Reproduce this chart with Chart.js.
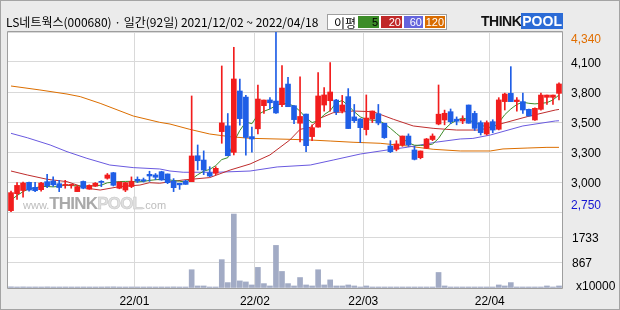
<!DOCTYPE html>
<html><head><meta charset="utf-8">
<script src="https://cdn.jsdelivr.net/npm/chart.js@4/dist/chart.umd.min.js"></script>
<style>
html,body{margin:0;padding:0;}
body{width:620px;height:310px;overflow:hidden;background:#ebebeb;position:relative;font-family:"Liberation Sans",Arial,sans-serif;}
#border{position:absolute;left:0;top:0;width:618px;height:308px;border:1px solid #a4a4a4;pointer-events:none;z-index:5;}
canvas{position:absolute;left:0;}
#cp{top:0;}
#cv{top:212px;}
#title{position:absolute;left:6px;top:13px;font:12px "Noto Sans CJK KR";color:#000;white-space:nowrap;z-index:3;}
#legend{position:absolute;left:327px;top:14px;width:118px;height:14px;border:1px solid #a0a0a0;background:#fff;z-index:3;font:12px "Noto Sans CJK KR";}
#legend span{position:absolute;top:1px;height:12px;line-height:12px;font:11px "Liberation Sans";color:#fff;text-align:right;padding-right:1px;box-sizing:border-box;}
#logo{position:absolute;left:481px;top:14px;height:15px;z-index:3;font:bold 14px "Liberation Sans";line-height:15px;white-space:nowrap;}
#wm{position:absolute;left:23px;top:194px;z-index:3;white-space:nowrap;pointer-events:none;color:#bdbdbd;}
</style></head>
<body>
<canvas id="cp" width="620" height="212"></canvas>
<canvas id="cv" width="620" height="98"></canvas>
<div id="title">LS네트웍스(000680) · 일간(92일) 2021/12/02 ~ 2022/04/18</div>
<div id="legend"><span style="left:6px;top:-1px;color:#000;font:12px 'Noto Sans CJK KR';">이평</span>
<span style="left:30px;width:21px;background:#3c8c28;color:#000;">5</span>
<span style="left:53px;width:21px;background:#c02828;">20</span>
<span style="left:76px;width:19px;background:#6464dc;">60</span>
<span style="left:97px;width:20px;background:#d96c00;">120</span></div>
<div id="logo"><span style="color:#111;letter-spacing:-0.5px;">THINK</span><span style="color:#fff;background:#2b6bd6;padding:0 1px;">POOL</span></div>
<div id="wm"><span style="font:11px 'Liberation Sans';">www.</span><span style="font:bold 17px 'Liberation Sans';color:#a9a9a9;letter-spacing:-0.8px;">THINK</span><span style="font:bold 17px 'Liberation Sans';color:#e0e0e0;letter-spacing:-0.8px;-webkit-text-stroke:0.5px #c4c4c4;">POOL</span><span style="font:11px 'Liberation Sans';">.com</span></div>
<div id="border"></div>
<script>
// ---- data ----
const opens  = [2762,2912,2940,3012,2968,2947,3018,3024,3000,2985,2985,2930,3020,2952,2978,3020,3048,3097,2960,2944,
                2975,3039,3035,3083,3077,3106,3086,3024,3004,3024,3018,3247,3209,3097,3092,3460,3511,3277,3819,3765,
                3416,3485,3689,3740,3730,3698,3880,3689,3534,3615,3416,3500,3695,3733,3739,3642,3769,3590,3572,3478,
                3572,3618,3534,3333,3304,3342,3421,3298,3230,3313,3390,3527,3563,3636,3570,3554,3695,3621,3539,3439,
                3548,3481,3725,3798,3725,3725,3657,3563,3657,3763,3763,3798];
const highs  = [2935,3009,3015,3015,3012,3012,3083,3060,3030,3030,2995,2985,3024,2990,3010,3027,3090,3100,3015,3012,
                3060,3060,3050,3110,3090,3110,3086,3045,3004,3030,3775,3342,3290,3150,3150,4040,3620,4205,3925,3780,
                3500,3872,3739,3760,4340,4043,3940,3689,3945,3615,3520,3981,3850,4070,3745,3780,3840,3700,3575,3784,
                3642,3700,3534,3380,3380,3421,3440,3330,3289,3400,3440,3872,3650,3660,3590,3600,3695,3640,3555,3555,
                3565,3760,3800,4034,3760,3800,3660,3670,3800,3783,3783,3890];
const lows   = [2750,2862,2880,2935,2930,2935,2965,2975,2930,2960,2960,2930,2955,2950,2975,2974,3040,2980,2955,2930,
                2965,3010,3015,3020,3035,3030,3000,2930,2950,2994,3018,3121,3080,3062,3080,3357,3247,3254,3518,3252,
                3279,3440,3620,3660,3620,3680,3680,3530,3368,3283,3380,3500,3640,3640,3610,3625,3487,3540,3363,3430,
                3540,3520,3400,3275,3290,3330,3330,3210,3220,3310,3380,3520,3520,3530,3520,3530,3534,3470,3430,3430,
                3450,3475,3651,3725,3640,3620,3598,3560,3650,3700,3700,3740];
const closes = [2921,2985,3006,2944,2938,3006,2980,2990,2966,2992,2988,2974,2960,2985,3004,3012,3077,2986,3015,3009,
                3020,3024,3024,3068,3057,3033,3009,2965,2990,2994,3245,3203,3121,3068,3136,3537,3247,3925,3575,3408,
                3395,3748,3739,3715,3625,3845,3680,3566,3594,3336,3495,3775,3784,3810,3634,3695,3487,3556,3495,3580,
                3642,3536,3407,3283,3351,3421,3342,3215,3289,3395,3421,3614,3622,3548,3552,3569,3534,3489,3451,3539,
                3474,3740,3792,3725,3739,3651,3598,3666,3783,3783,3783,3881];
const volumes = [40,35,38,35,36,35,38,35,35,36,35,35,36,35,35,36,38,40,35,35,
                 36,35,35,36,35,36,35,38,35,35,625,70,70,35,35,970,185,2530,243,208,
                 104,705,150,70,1457,566,150,70,358,104,70,625,104,278,70,70,104,70,35,70,
                 35,35,35,35,35,35,35,35,35,35,35,531,70,35,35,35,35,35,35,35,
                 35,104,70,185,35,35,35,35,35,70,35,70];
const ma5 = [2856,2895,2930,2955,2962,2976,2975,2972,2976,2987,2983,2982,2976,2980,2982,2987,3008,3013,3019,3020,
             3021,3015,3020,3029,3035,3038,3036,3028,3022,3015,3041,3079,3111,3126,3160,3213,3230,3370,3470,3545,
             3530,3610,3640,3660,3690,3710,3705,3686,3640,3580,3540,3555,3610,3645,3715,3735,3690,3636,3590,3568,
             3560,3560,3530,3490,3444,3400,3361,3340,3338,3340,3350,3400,3480,3530,3560,3581,3565,3538,3519,3500,
             3490,3540,3610,3660,3700,3720,3710,3705,3710,3716,3740,3783];
const ma20X = [0,2.7,6,9.3,12.6,14.8,18,21.4,23,24.7,28.6,33,36.4,39.7,43,46.3,48,49.7,51.3,53.5,56.8,60.1,63.5,66.8,70.1,74,77.9,81.7,85.7,90.4,91];
const ma20  = [3112,3077,3039,3018,2960,2944,2974,2988,3009,3004,3033,3054,3121,3174,3254,3386,3480,3498,3578,3627,3642,3636,3569,3510,3489,3474,3474,3534,3592,3651,3656];
const ma60X = [0,2.7,6.5,9.3,12.6,16.4,20.3,24.7,26.4,28.6,34.2,39.7,44.2,49.7,53.5,58,62.5,65.8,70.5,74.6,76.7,79.6,85,90.4,91];
const ma60  = [3445,3406,3342,3283,3224,3165,3142,3130,3112,3101,3101,3112,3148,3165,3209,3262,3298,3322,3366,3395,3400,3430,3510,3554,3556];
const ma120X = [0,4.8,9.3,11.5,14.8,20.3,24.7,26.4,29.7,33,36.4,39.7,46.3,49.7,53,56.8,61.3,65.8,70.1,74.6,79.6,81.7,85.7,89,91];
const ma120  = [3863,3828,3792,3769,3710,3598,3542,3527,3480,3439,3415,3401,3392,3386,3377,3366,3357,3333,3304,3289,3289,3307,3315,3321,3321];
const priceTickValues = [2750,3015,3280,3545,3810,4075,4340];
const priceTickLabels = ['2,750','3,000','3,300','3,500','3,800','4,100','4,340'];
const volTickValues = [0,867,1733,2600];
const volTickLabels = ['','867','1733',''];
const volUnit = 'x10000';
const monthStartIdx = [21,41,59,80];
const monthLabels = ['22/01','22/02','22/03','22/04'];

// ---- styles ----
const UP='#f21d1d', DOWN='#1f5ee6', GRID='#d9d9d9', FRAME='#9e9e9e';
const idx = closes.map((_,i)=>i);
const candleColors = idx.map(i=> closes[i]>=opens[i] ? UP : DOWN);
const pts = (xs,ys)=>xs.map((x,k)=>({x:x,y:ys[k]}));

const framePlugin = {
  id:'frame',
  beforeDraw(chart){
    const {ctx, chartArea:a} = chart;
    ctx.save(); ctx.fillStyle='#fff'; ctx.fillRect(a.left,a.top,a.right-a.left,a.bottom-a.top); ctx.restore();
  },
  afterDraw(chart){
    const {ctx, chartArea:a} = chart;
    const o = chart.options.plugins.frame || {};
    ctx.save(); ctx.strokeStyle=FRAME; ctx.lineWidth=1; ctx.beginPath();
    ctx.moveTo(a.left-0.5, o.top ? a.top-0.5 : a.top); ctx.lineTo(a.left-0.5, a.bottom+0.5);
    ctx.lineTo(a.right+0.5, a.bottom+0.5);
    ctx.lineTo(a.right+0.5, o.top ? a.top-0.5 : a.top);
    if(o.top){ ctx.moveTo(a.left-0.5,a.top-0.5); ctx.lineTo(a.right+0.5,a.top-0.5); }
    ctx.stroke(); ctx.restore();
  }
};
const priceLabels = {
  id:'plabels',
  afterDraw(chart){
    const {ctx, chartArea:a, scales:{y}} = chart;
    ctx.save(); ctx.font='12px "Liberation Sans"'; ctx.textBaseline='middle'; ctx.textAlign='left';
    priceTickValues.forEach((v,k)=>{
      let py = y.getPixelForValue(v)+1.5;
      py = Math.min(Math.max(py, a.top+7.5), a.bottom-6);
      ctx.fillStyle = k===priceTickValues.length-1 ? '#e06e00' : (k===0 ? '#1414d2' : '#000');
      ctx.fillText(priceTickLabels[k], a.right+9, py);
    });
    ctx.restore();
  }
};
const volLabels = {
  id:'vlabels',
  afterDraw(chart){
    const {ctx, chartArea:a, scales:{y}} = chart;
    ctx.save(); ctx.font='12px "Liberation Sans"'; ctx.textBaseline='middle'; ctx.textAlign='left'; ctx.fillStyle='#000';
    volTickValues.forEach((v,k)=>{ if(volTickLabels[k]) ctx.fillText(volTickLabels[k], a.right+10, y.getPixelForValue(v)+1); });
    ctx.fillText(volUnit, a.right+14, a.bottom-1);
    ctx.restore();
  }
};
const xGrid = s=>{ s.ticks = monthStartIdx.map(i=>({value:i-0.5})); };

new Chart(document.getElementById('cp'), {
  data:{datasets:[
    {type:'bar', data: idx.map(i=>({x:i,y:[opens[i],closes[i]]})), backgroundColor:candleColors, barThickness:5, grouped:false, minBarLength:1, order:0},
    {type:'bar', data: idx.map(i=>({x:i,y:[lows[i],highs[i]]})), backgroundColor:candleColors, barThickness:1, grouped:false, order:1},
    {type:'line', data: idx.map(i=>({x:i,y:ma5[i]})), borderColor:'#3c8c28', borderWidth:1, pointRadius:0, order:2},
    {type:'line', data: pts(ma20X,ma20), borderColor:'#bf2d2d', borderWidth:1, pointRadius:0, order:3},
    {type:'line', data: pts(ma60X,ma60), borderColor:'#6a5ae0', borderWidth:1, pointRadius:0, order:4},
    {type:'line', data: pts(ma120X,ma120), borderColor:'#dc6e00', borderWidth:1, pointRadius:0, order:5}
  ]},
  options:{
    responsive:false, animation:false, events:[],
    layout:{padding:{left:8,top:32,right:0,bottom:0}},
    plugins:{legend:{display:false}, tooltip:{enabled:false}, frame:{top:true}},
    scales:{
      x:{type:'linear', offset:false, min:-0.5, max:91.5, afterBuildTicks:xGrid, ticks:{display:false}, grid:{color:GRID, drawTicks:false, offset:false}, border:{display:false}},
      y:{position:'right', min:2750, max:4340, afterBuildTicks:s=>{s.ticks=priceTickValues.map(v=>({value:v}));}, ticks:{display:false}, grid:{color:GRID, drawTicks:false}, border:{display:false}, afterFit:s=>{s.width=58;}}
    }
  },
  plugins:[framePlugin, priceLabels]
});

new Chart(document.getElementById('cv'), {
  data:{datasets:[
    {type:'bar', data: idx.map(i=>({x:i,y:volumes[i]})), backgroundColor:'#a2abc5', barThickness:5, grouped:false}
  ]},
  options:{
    responsive:false, animation:false, events:[],
    layout:{padding:{left:8,top:0,right:0,bottom:0}},
    plugins:{legend:{display:false}, tooltip:{enabled:false}, frame:{top:false}},
    scales:{
      x:{type:'linear', offset:false, min:-0.5, max:91.5, afterBuildTicks:xGrid,
         ticks:{callback:(v,k)=>monthLabels[k], color:'#000', font:{family:'Liberation Sans', size:12}, padding:6, maxRotation:0, autoSkip:false},
         grid:{color:GRID, drawTicks:false, offset:false}, border:{display:false}, afterFit:s=>{s.height=22;}},
      y:{position:'right', min:0, max:2600, afterBuildTicks:s=>{s.ticks=volTickValues.map(v=>({value:v}));}, ticks:{display:false}, grid:{color:GRID, drawTicks:false}, border:{display:false}, afterFit:s=>{s.width=58;}}
    }
  },
  plugins:[framePlugin, volLabels]
});
</script>
</body></html>
